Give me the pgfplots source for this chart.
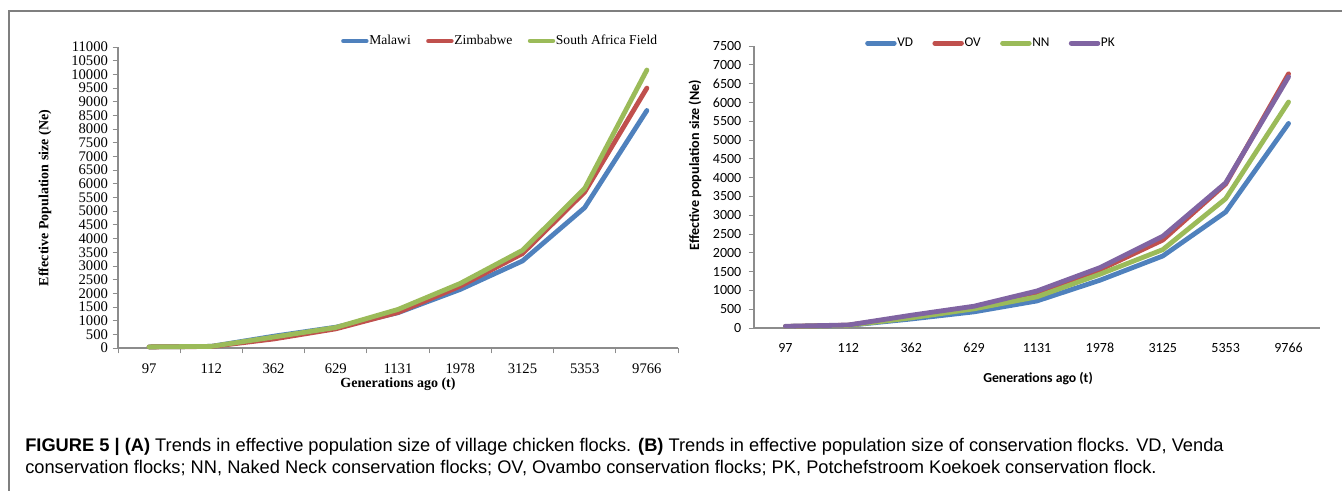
\documentclass[border=0pt]{standalone}
\usepackage{fontspec}
\usepackage{pgfplots}
\pgfplotsset{compat=1.18}
\setmainfont{Liberation Serif}
\newfontfamily\calibri{Carlito}
\newfontfamily\helv{Liberation Sans}
\definecolor{xblue}{HTML}{4F81BD}
\definecolor{xred}{HTML}{C0504D}
\definecolor{xgreen}{HTML}{9BBB59}
\definecolor{xpurple}{HTML}{8064A2}
\definecolor{framegray}{HTML}{7F7F7F}
\definecolor{axgray}{HTML}{8C8C8C}
\pgfplotsset{
  common/.style={
    scale only axis,
    axis lines=left,
    axis line style={axgray,line width=0.8pt,-},
    xmin=-0.5,xmax=8.5,ymin=0,
    xtick={0,...,8},
    xticklabels={97,112,362,629,1131,1978,3125,5353,9766},
    major x tick style={draw=none},
    tick align=outside,
    tick style={axgray,line width=0.6pt},
    major tick length=4pt,
    scaled y ticks=false,
    scaled x ticks=false,
    /pgf/number format/assume math mode=true,
    /pgf/number format/set thousands separator={},
    clip=false,
    legend cell align=left,
    legend image code/.code={\draw[##1,line width=3.6pt,line cap=round] (0pt,0pt)--(17pt,0pt);},
  },
  ser/.style={line width=3.6pt,line join=round,line cap=round,mark=none,color=#1},
}
\begin{document}
\begin{tikzpicture}
\useasboundingbox (0pt,0pt) rectangle (1006.5pt,-367.5pt);
% outer frame
\draw[framegray,line width=0.9pt] (6.75pt,-380pt) -- (6.75pt,-8.25pt) -- (1020pt,-8.25pt);
% ---------- Panel A ----------
\begin{axis}[common,
  at={(88.5pt,-261pt)},anchor=south west,
  width=420pt,height=225.75pt,
  ymax=11000,
  ytick={0,500,...,11000},
  minor xtick={-0.5,0.5,...,8.5},
  minor tick length=4pt,
  minor x tick style={axgray,line width=0.6pt},
  tick label style={font=\fontsize{11}{12}\selectfont},
  xticklabel style={yshift=-4pt},
  legend style={at={(0.398,1.02)},anchor=west,draw=none,fill=none,inner sep=0pt,
     legend columns=3,font=\fontsize{10.2}{12}\selectfont,
     nodes={inner sep=0.5pt},
     /tikz/every even column/.append style={column sep=11pt}},
]
\addplot[ser=xblue] coordinates {(0,40) (1,60) (2,430) (3,760) (4,1290) (5,2140) (6,3180) (7,5130) (8,8680)};
\addplot[ser=xred] coordinates {(0,40) (1,55) (2,330) (3,700) (4,1300) (5,2260) (6,3450) (7,5700) (8,9500)};
\addplot[ser=xgreen] coordinates {(0,40) (1,60) (2,400) (3,750) (4,1410) (5,2360) (6,3570) (7,5830) (8,10160)};
\legend{Malawi,Zimbabwe,South Africa Field}
\end{axis}
\node[rotate=90,font=\bfseries\fontsize{10.5}{12}\selectfont] at (33.75pt,-148.5pt) {Effective Population size (Ne)};
\node[font=\bfseries\fontsize{10.5}{12}\selectfont] at (298.5pt,-288.5pt) {Generations ago (t)};
% ---------- Panel B ----------
\begin{axis}[common,
  at={(565.5pt,-246pt)},anchor=south west,
  width=424.5pt,height=211.5pt,
  ymax=7500,
  ytick={0,500,...,7500},
  tick label style={font=\calibri\fontsize{10.5}{12}\selectfont},
  yticklabel style={xshift=-2pt},
  xticklabel style={yshift=-4pt},
  legend style={at={(0.196,1.01)},anchor=west,draw=none,fill=none,inner sep=0pt,
     legend columns=4,font=\calibri\fontsize{10}{12}\selectfont,
     nodes={inner sep=0.5pt},
     /tikz/every even column/.append style={column sep=14pt}},
  legend image code/.code={\draw[#1,line width=3.6pt,line cap=round] (0pt,0pt)--(20pt,0pt);},
]
\addplot[ser=xblue] coordinates {(0,40) (1,70) (2,240) (3,430) (4,720) (5,1270) (6,1915) (7,3085) (8,5440)};
\addplot[ser=xred] coordinates {(0,40) (1,75) (2,310) (3,540) (4,920) (5,1550) (6,2340) (7,3830) (8,6760)};
\addplot[ser=xgreen] coordinates {(0,40) (1,70) (2,270) (3,510) (4,830) (5,1430) (6,2085) (7,3440) (8,6010)};
\addplot[ser=xpurple] coordinates {(0,45) (1,80) (2,340) (3,580) (4,985) (5,1605) (6,2440) (7,3860) (8,6680)};
\legend{VD,OV,NN,PK}
\end{axis}
\node[rotate=90,font=\calibri\bfseries\fontsize{10.6}{12}\selectfont] at (521.25pt,-123.75pt) {Effective population size (Ne)};
\node[font=\calibri\bfseries\fontsize{10.3}{12}\selectfont] at (778.5pt,-284.25pt) {Generations ago (t)};
% ---------- Caption ----------
\node[anchor=base west,inner sep=0pt,font=\helv\fontsize{13.7}{16}\selectfont] at (18.75pt,-338.25pt)
  {\textbf{FIGURE 5 | (A)} Trends in effective population size of village chicken flocks. \textbf{(B)} Trends in effective population size of conservation flocks. VD, Venda};
\node[anchor=base west,inner sep=0pt,font=\helv\fontsize{13.7}{16}\selectfont] at (18.75pt,-354.75pt)
  {conservation flocks; NN, Naked Neck conservation flocks; OV, Ovambo conservation flocks; PK, Potchefstroom Koekoek conservation flock.};
\end{tikzpicture}
\end{document}
